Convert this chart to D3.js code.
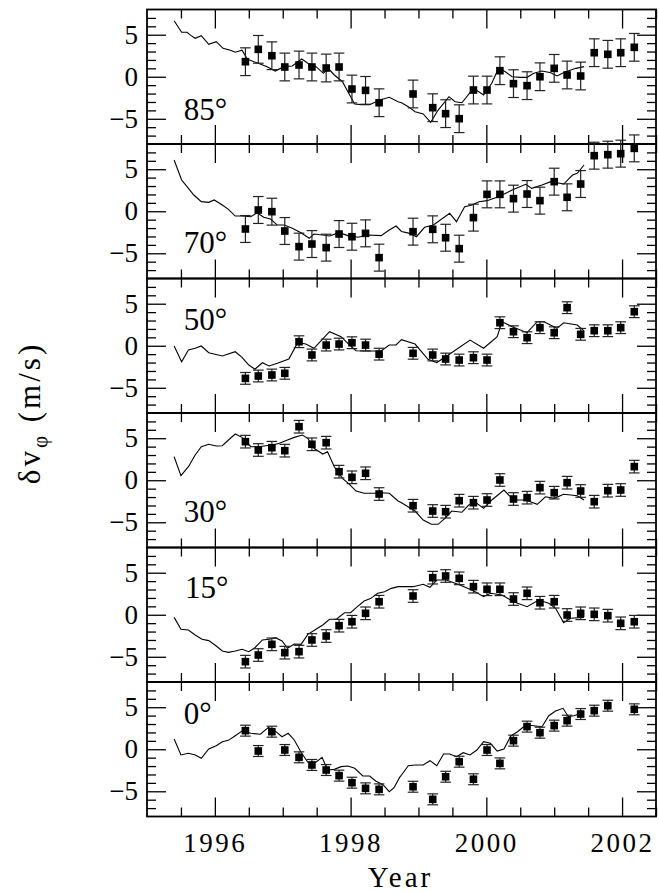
<!DOCTYPE html>
<html><head><meta charset="utf-8">
<script src="https://cdn.jsdelivr.net/npm/d3@7"></script>
<style>body{margin:0;background:#fff}svg{display:block}</style>
</head><body>
<script>
// ---------- data ----------
const latitudes = ["85","70","50","30","15","0"];
const times = [1996.45,1996.64,1996.84,1997.03,1997.24,1997.43,1997.64,1997.83,1998.02,1998.22,1998.42,1998.92,1999.21,1999.40,1999.60,1999.81,2000.01,2000.20,2000.40,2000.60,2000.79,2001.00,2001.19,2001.39,2001.59,2001.79,2001.98,2002.18];
const v85 = [1.79,3.26,2.5,1.16,1.4,1.16,1.04,1.16,-1.46,-1.62,-3.09,-2.05,-3.68,-4.39,-4.99,-1.58,-1.58,0.72,-0.82,-1.06,0.0,1.0,0.21,0.09,2.86,2.67,2.86,3.5];
const v70 = [-2.11,0.15,-0.05,-2.35,-4.21,-3.9,-4.33,-2.71,-3.03,-2.63,-5.52,-2.43,-2.15,-3.15,-4.45,-0.76,2.01,2.01,1.5,2.05,1.26,3.52,1.66,3.24,6.61,6.73,6.85,7.48];
const v50 = [-3.88,-3.6,-3.48,-3.28,0.48,-1.1,0.08,0.2,0.36,0.08,-1.0,-0.9,-1.1,-1.58,-1.7,-1.42,-1.7,2.74,1.67,0.96,2.15,1.55,4.53,1.36,1.79,1.79,2.15,4.05];
const v30 = [4.59,3.6,3.87,3.52,6.37,4.28,4.47,1.02,0.35,0.83,-1.64,-3.03,-3.66,-3.74,-2.43,-2.67,-2.35,0.03,-2.23,-2.07,-0.88,-1.48,-0.29,-1.28,-2.55,-1.24,-1.16,1.62];
const v15 = [-5.58,-4.79,-3.52,-4.51,-4.39,-3.0,-2.53,-1.3,-0.83,0.17,1.55,2.23,4.41,4.61,4.33,3.34,3.03,3.03,1.87,2.55,1.43,1.55,-0.03,0.17,0.05,-0.11,-1.02,-0.83];
const v0  = [2.21,-0.21,2.09,-0.09,-0.96,-1.87,-2.47,-3.14,-3.98,-4.65,-4.77,-4.46,-5.96,-3.27,-1.48,-3.57,-0.09,-1.68,1.02,2.69,1.97,2.81,3.4,4.19,4.59,5.18,null,4.75];
const errors = [1.65,1.6,0.7,0.75,0.75,0.65];

const line85 = [[1995.40,6.67],[1995.51,5.29],[1995.59,5.29],[1995.65,4.89],[1995.71,4.57],[1995.80,4.89],[1995.91,3.86],[1996.02,4.17],[1996.12,3.38],[1996.23,3.15],[1996.30,2.91],[1996.40,3.15],[1996.48,2.07],[1996.64,1.6],[1996.77,1.2],[1996.89,0.68],[1997.02,1.2],[1997.14,1.28],[1997.28,2.11],[1997.37,1.6],[1997.49,1.2],[1997.60,0.41],[1997.67,1.0],[1997.76,0.21],[1997.88,-0.59],[1997.96,-1.78],[1998.06,-3.24],[1998.16,-3.32],[1998.28,-3.32],[1998.43,-2.77],[1998.57,-2.45],[1998.70,-2.97],[1998.75,-3.09],[1998.85,-3.56],[1998.95,-4.16],[1999.07,-4.43],[1999.18,-5.42],[1999.29,-3.96],[1999.45,-2.37],[1999.54,-2.97],[1999.64,-3.09],[1999.81,-1.38],[1999.96,-2.17],[2000.08,-0.78],[2000.18,1.0],[2000.28,0.6],[2000.38,0.0],[2000.50,-0.07],[2000.60,-0.07],[2000.70,0.41],[2000.82,0.68],[2000.95,0.48],[2001.04,0.09],[2001.17,0.6],[2001.32,1.0],[2001.44,1.2]];
const line70 = [[1995.40,6.1],[1995.51,3.72],[1995.59,2.92],[1995.69,1.93],[1995.80,1.14],[1995.91,1.06],[1995.99,1.34],[1996.11,0.74],[1996.20,0.23],[1996.30,-0.57],[1996.40,-0.57],[1996.53,-0.65],[1996.62,-0.17],[1996.72,-0.72],[1996.82,-0.92],[1996.92,-1.64],[1997.02,-1.64],[1997.14,-2.03],[1997.27,-2.55],[1997.39,-3.22],[1997.46,-2.71],[1997.59,-2.83],[1997.69,-2.94],[1997.83,-2.55],[1997.96,-2.9],[1998.11,-3.1],[1998.25,-2.83],[1998.45,-2.9],[1998.57,-2.23],[1998.67,-1.76],[1998.75,-2.4],[1998.87,-2.63],[1998.97,-3.03],[1999.09,-1.91],[1999.22,-1.64],[1999.46,-0.25],[1999.56,-1.24],[1999.68,0.54],[1999.79,0.74],[1999.89,1.14],[2000.01,1.26],[2000.18,1.73],[2000.38,2.53],[2000.58,3.2],[2000.67,2.72],[2000.82,3.12],[2000.95,3.52],[2001.14,3.24],[2001.27,4.31],[2001.34,4.51],[2001.44,5.5]];
const line50 = [[1995.40,-0.03],[1995.51,-1.9],[1995.61,-0.5],[1995.71,-0.3],[1995.80,-0.03],[1995.91,-0.83],[1996.11,-1.22],[1996.30,-0.71],[1996.40,-1.38],[1996.50,-2.29],[1996.59,-2.8],[1996.70,-2.02],[1996.80,-2.41],[1996.92,-2.09],[1997.09,-1.58],[1997.22,0.36],[1997.34,0.2],[1997.46,-0.3],[1997.69,1.67],[1997.86,1.08],[1997.96,0.29],[1998.08,-0.59],[1998.25,-0.62],[1998.45,-0.62],[1998.57,0.09],[1998.67,0.09],[1998.75,0.72],[1998.95,0.2],[1999.14,-1.61],[1999.27,-2.0],[1999.44,-1.1],[1999.76,0.68],[1999.96,-0.3],[2000.16,1.08],[2000.23,2.86],[2000.38,2.27],[2000.60,1.55],[2000.75,2.86],[2000.85,2.86],[2001.04,2.07],[2001.14,2.74],[2001.34,2.47],[2001.44,1.76]];
const line30 = [[1995.40,2.8],[1995.50,0.55],[1995.61,1.61],[1995.71,3.0],[1995.80,3.99],[1995.91,4.28],[1996.02,4.07],[1996.11,4.11],[1996.20,4.79],[1996.30,5.5],[1996.40,5.1],[1996.53,3.99],[1996.65,3.99],[1996.75,4.11],[1996.85,4.19],[1996.95,4.39],[1997.07,4.79],[1997.17,5.1],[1997.29,5.38],[1997.37,4.99],[1997.46,3.8],[1997.59,3.12],[1997.66,3.4],[1997.76,1.61],[1997.88,0.23],[1997.98,-0.45],[1998.08,-1.28],[1998.20,-1.55],[1998.35,-1.55],[1998.45,-1.48],[1998.57,-1.55],[1998.70,-2.47],[1998.75,-2.67],[1998.95,-3.66],[1999.07,-4.73],[1999.19,-5.24],[1999.29,-5.24],[1999.39,-4.53],[1999.49,-3.66],[1999.64,-3.81],[1999.74,-2.95],[1999.86,-2.75],[1999.96,-3.34],[2000.08,-2.35],[2000.26,-1.16],[2000.40,-2.35],[2000.58,-2.35],[2000.75,-2.86],[2000.87,-1.96],[2001.00,-2.15],[2001.14,-1.67],[2001.34,-1.84],[2001.44,-2.35]];
const line15 = [[1995.40,-0.31],[1995.50,-1.73],[1995.61,-1.81],[1995.71,-2.41],[1995.81,-2.92],[1995.91,-3.08],[1996.02,-3.72],[1996.11,-4.31],[1996.20,-4.47],[1996.30,-4.31],[1996.40,-4.11],[1996.50,-4.39],[1996.59,-3.92],[1996.70,-3.0],[1996.80,-2.92],[1996.89,-2.73],[1996.99,-3.12],[1997.07,-3.99],[1997.17,-3.48],[1997.27,-3.52],[1997.37,-2.33],[1997.49,-1.73],[1997.59,-1.22],[1997.69,-0.54],[1997.79,-0.54],[1997.91,0.24],[1998.00,0.24],[1998.10,0.96],[1998.20,1.64],[1998.30,1.95],[1998.40,2.55],[1998.50,2.74],[1998.60,3.14],[1998.70,3.34],[1998.92,3.34],[1999.07,3.62],[1999.17,3.26],[1999.27,4.13],[1999.41,4.13],[1999.61,3.54],[1999.81,2.86],[1999.96,2.15],[2000.06,2.55],[2000.23,2.35],[2000.40,1.55],[2000.60,0.96],[2000.77,1.75],[2000.92,1.36],[2001.02,0.77],[2001.14,-0.94],[2001.24,-0.42],[2001.44,-0.31]];
const line0 = [[1995.40,1.22],[1995.50,-0.68],[1995.61,-0.48],[1995.71,-0.68],[1995.80,-1.08],[1995.91,0.03],[1996.02,0.42],[1996.11,0.9],[1996.20,1.06],[1996.30,1.61],[1996.40,2.17],[1996.53,1.9],[1996.67,1.78],[1996.79,2.61],[1996.90,2.09],[1996.99,1.49],[1997.08,1.9],[1997.17,1.1],[1997.27,-0.36],[1997.37,-1.55],[1997.49,-1.55],[1997.58,-0.96],[1997.66,-2.47],[1997.76,-2.39],[1997.86,-2.07],[1997.96,-1.99],[1998.06,-2.27],[1998.18,-3.18],[1998.28,-3.18],[1998.37,-3.78],[1998.48,-4.25],[1998.57,-5.05],[1998.64,-4.57],[1998.72,-3.38],[1998.75,-3.06],[1998.85,-1.96],[1998.95,-1.87],[1999.07,-1.87],[1999.17,-1.36],[1999.27,-1.96],[1999.37,-0.57],[1999.46,-0.57],[1999.56,-0.88],[1999.66,-0.41],[1999.76,-0.68],[1999.86,-0.09],[1999.96,0.9],[2000.06,0.71],[2000.16,-0.21],[2000.26,0.03],[2000.36,1.58],[2000.46,2.09],[2000.58,2.88],[2000.70,2.8],[2000.82,2.68],[2000.92,3.99],[2001.02,4.55],[2001.13,4.87],[2001.21,3.87],[2001.29,3.99],[2001.44,4.39]];
// label anchor in data units (year, value) for the latitude label of each panel
const labelPos = [[1995.54,-5.09],[1995.54,-5.0],[1995.54,1.87],[1995.54,-4.93],[1995.56,1.96],[1995.54,2.97]];
const xDomain = [1995, 2002.5];
const yDomain = [-8, 8];
const xMajor = [1996, 1998, 2000, 2002];
const xMinor = [1995.5,1996.5,1997,1997.5,1998.5,1999,1999.5,2000.5,2001,2001.5,2002.5];
const yMajor = [-5, 0, 5];
const yMinor = [-7,-6,-4,-3,-2,-1,1,2,3,4,6,7];

const values = [v85, v70, v50, v30, v15, v0];
const lines = [line85, line70, line50, line30, line15, line0];

// ---------- layout ----------
const W = 659, H = 892;
const L = 147, R = 656, T = 9.5, PH = 134.5;
const MAJ = 19, MIN = 9;
const serif = "'Liberation Serif', 'Times New Roman', serif";

const svg = d3.select("body").append("svg").attr("width", W).attr("height", H);
const x = d3.scaleLinear(xDomain, [L, R]);

latitudes.forEach((lat, i) => {
  const top = T + i * PH, bot = top + PH;
  const y = d3.scaleLinear(yDomain, [bot, top]);
  const g = svg.append("g");

  // ticks (inward on all sides)
  const mk = (axisFn, scale, vals, size, tr, labels) => {
    const a = axisFn(scale).tickValues(vals).tickSize(-size).tickSizeOuter(0);
    if (!labels) a.tickFormat("");
    const ag = g.append("g").attr("transform", tr).call(a);
    ag.select(".domain").remove();
    ag.selectAll("line").attr("stroke", "#000").attr("stroke-width", 1.3);
    return ag;
  };
  mk(d3.axisBottom, x, xMinor, MIN, `translate(0,${bot})`);
  mk(d3.axisBottom, x, xMajor, MAJ, `translate(0,${bot})`);
  mk(d3.axisTop, x, xMinor, MIN, `translate(0,${top})`);
  mk(d3.axisTop, x, xMajor, MAJ, `translate(0,${top})`);
  mk(d3.axisLeft, y, yMinor, MIN, `translate(${L},0)`);
  const ly = mk(d3.axisLeft, y, yMajor, MAJ, `translate(${L},0)`, true);
  ly.selectAll("text").attr("font-family", serif).attr("font-size", 27).attr("fill", "#000").attr("x", -9);
  mk(d3.axisRight, y, yMinor, MIN, `translate(${R},0)`);
  mk(d3.axisRight, y, yMajor, MAJ, `translate(${R},0)`);

  if (i === latitudes.length - 1) {
    const xb = d3.axisBottom(x).tickValues(xMajor).tickSize(0).tickPadding(16).tickFormat(d3.format("d"));
    const xg = g.append("g").attr("transform", `translate(0,${bot})`).call(xb);
    xg.select(".domain").remove();
    xg.selectAll("text").attr("font-family", serif).attr("font-size", 27).attr("letter-spacing", 2.5).attr("fill", "#000");
  }

  // frame
  g.append("rect").attr("x", L).attr("y", top).attr("width", R - L).attr("height", PH)
    .attr("fill", "none").attr("stroke", "#000").attr("stroke-width", 1.8);

  // model line
  g.append("path").datum(lines[i])
    .attr("d", d3.line().x(d => x(d[0])).y(d => y(d[1])))
    .attr("fill", "none").attr("stroke", "#000").attr("stroke-width", 1.1);

  // data with error bars
  const pts = times.map((t, k) => ({t, v: values[i][k]})).filter(d => d.v !== null);
  const e = errors[i];
  const eb = g.append("g").attr("stroke", "#222").attr("stroke-width", 1.2);
  pts.forEach(d => {
    eb.append("line").attr("x1", x(d.t)).attr("x2", x(d.t)).attr("y1", y(d.v - e)).attr("y2", y(d.v + e));
    eb.append("line").attr("x1", x(d.t) - 5.3).attr("x2", x(d.t) + 5.3).attr("y1", y(d.v - e)).attr("y2", y(d.v - e));
    eb.append("line").attr("x1", x(d.t) - 5.3).attr("x2", x(d.t) + 5.3).attr("y1", y(d.v + e)).attr("y2", y(d.v + e));
  });
  g.selectAll("rect.pt").data(pts).enter().append("rect").attr("class", "pt")
    .attr("x", d => x(d.t) - 3.8).attr("y", d => y(d.v) - 3.8)
    .attr("width", 7.6).attr("height", 7.6).attr("fill", "#000");

  // latitude label
  g.append("text").attr("x", x(labelPos[i][0])).attr("y", y(labelPos[i][1]))
    .attr("font-family", serif).attr("font-size", 31).attr("fill", "#000")
    .text(lat + "°");
});

// axis titles
svg.append("text").attr("x", (L + R) / 2 - 1).attr("y", 887).attr("text-anchor", "middle")
  .attr("font-family", serif).attr("font-size", 29).attr("letter-spacing", 3).text("Year");

const yt = svg.append("text").attr("transform", `translate(40,${T + 3 * PH}) rotate(-90)`)
  .attr("text-anchor", "middle").attr("font-family", serif).attr("font-size", 31).attr("letter-spacing", 3);
yt.append("tspan").text("δv");
yt.append("tspan").attr("font-size", 21).attr("dy", 7).text("φ");
yt.append("tspan").attr("dy", -7).text(" (m/s)");
</script>
</body></html>
